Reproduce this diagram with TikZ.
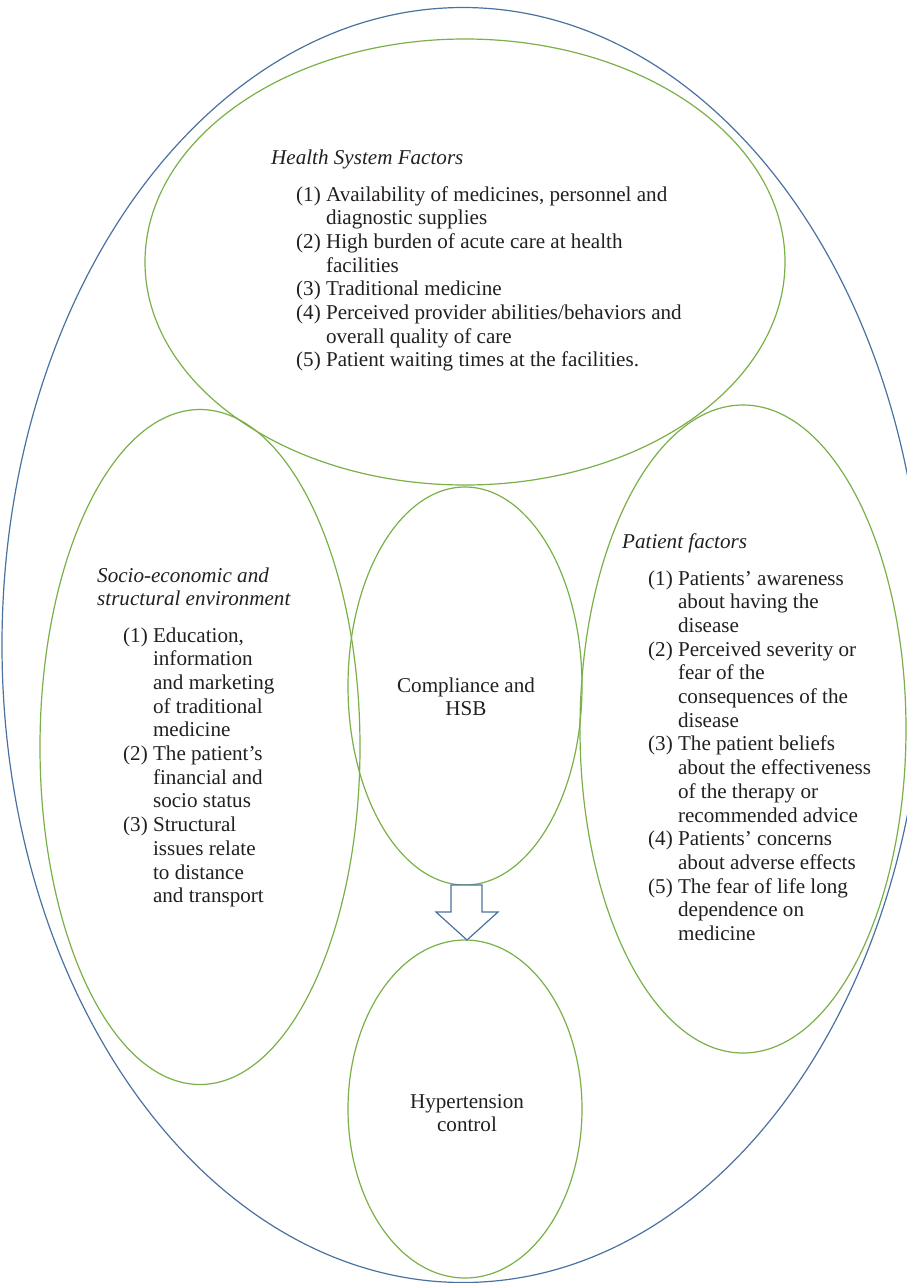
\documentclass[tikz,border=0pt]{standalone}
\usepackage{fontspec}
\setmainfont{Liberation Serif}
\usetikzlibrary{shapes.geometric}
\definecolor{outerblue}{RGB}{74,114,160}
\definecolor{lgreen}{RGB}{122,176,72}
\definecolor{txtc}{RGB}{35,31,32}
\newcommand{\dfs}{\fontsize{21.1}{23.7}\selectfont}
\tikzset{
  ell/.style={ellipse, draw=lgreen, line width=1.2pt, inner sep=0pt},
  outerell/.style={ellipse, draw=outerblue, line width=1.2pt, inner sep=0pt},
  txt/.style={inner sep=0pt, anchor=base west, font=\dfs, text=txtc},
  ctxt/.style={inner sep=0pt, anchor=base, font=\dfs, text=txtc},
  blockarrow/.style={draw=outerblue, line width=1.2pt, fill=white, line join=miter}
}
\begin{document}
\begin{tikzpicture}[x=1pt,y=-1pt]
\useasboundingbox (0,0) rectangle (906,1283);
% ellipses
\node[outerell, minimum width=922, minimum height=1275] (outer) at (463,645) {};
\node[ell, minimum width=640, minimum height=446] (hs) at (465,262) {};
\node[ell, minimum width=320, minimum height=675] (se) at (200,747) {};
\node[ell, minimum width=326, minimum height=648] (pf) at (743,729) {};
\node[ell, minimum width=234, minimum height=398] (cp) at (465,686) {};
\node[ell, minimum width=234, minimum height=338] (ht) at (465,1109) {};
% block arrow
\coordinate (at) at (cp.south);
\coordinate (ab) at (ht.north);
\draw[blockarrow] (451,885) -- (482,885) -- (482,912) -- (498,912) -- (467,940) -- (436,912) -- (451,912) -- cycle;
% health system text
\node[txt] (hsT) at (271,164) {\itshape Health System Factors};
\node[txt] (hsL) at (296,201) {\begin{tabular}[t]{@{}l@{ }l@{}}
(1)&Availability of medicines, personnel and\\
&diagnostic supplies\\
(2)&High burden of acute care at health\\
&facilities\\
(3)&Traditional medicine\\
(4)&Perceived provider abilities/behaviors and\\
&overall quality of care\\
(5)&Patient waiting times at the facilities.
\end{tabular}};
% socio-economic text
\node[txt] (seT) at (97,582) {\itshape\begin{tabular}[t]{@{}l@{}}Socio-economic and\\structural environment\end{tabular}};
\node[txt] (seL) at (123,642) {\begin{tabular}[t]{@{}l@{ }l@{}}
(1)&Education,\\
&information\\
&and marketing\\
&of traditional\\
&medicine\\
(2)&The patient’s\\
&financial and\\
&socio status\\
(3)&Structural\\
&issues relate\\
&to distance\\
&and transport
\end{tabular}};
% compliance
\node[ctxt] (cpT) at (466,692) {\begin{tabular}[t]{@{}c@{}}Compliance and\\HSB\end{tabular}};
% patient factors
\node[txt] (pfT) at (622,548) {\itshape Patient factors};
\node[txt] (pfL) at (648,585) {\begin{tabular}[t]{@{}l@{ }l@{}}
(1)&Patients’ awareness\\
&about having the\\
&disease\\
(2)&Perceived severity or\\
&fear of the\\
&consequences of the\\
&disease\\
(3)&The patient beliefs\\
&about the effectiveness\\
&of the therapy or\\
&recommended advice\\
(4)&Patients’ concerns\\
&about adverse effects\\
(5)&The fear of life long\\
&dependence on\\
&medicine
\end{tabular}};
% hypertension
\node[ctxt] (htT) at (467,1108) {\begin{tabular}[t]{@{}c@{}}Hypertension\\control\end{tabular}};
\end{tikzpicture}
\end{document}
